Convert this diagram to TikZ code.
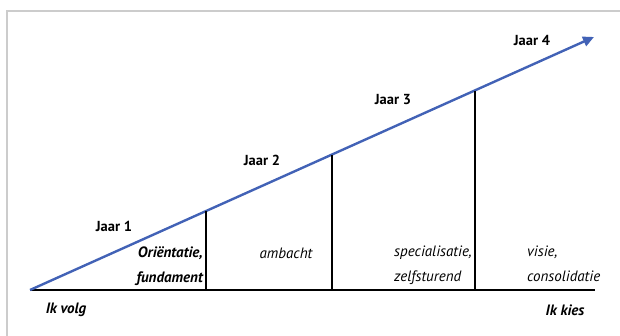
\documentclass[tikz,border=0pt]{standalone}
\usepackage{fontspec}
\setmainfont{PT Sans}
\usetikzlibrary{arrows.meta,positioning}
\definecolor{pijlblauw}{RGB}{66,98,182}
\definecolor{kader}{RGB}{204,204,204}

\tikzset{
  jaar/.style={font=\fontsize{14.5}{16}\selectfont\bfseries},
  fase/.style={font=\fontsize{15}{25}\selectfont\itshape, inner sep=0pt},
  fasevet/.style={font=\fontsize{15}{25}\selectfont\bfseries\itshape, inner sep=0pt},
}

\begin{document}
\begin{tikzpicture}[x=1pt,y=-1pt]
\useasboundingbox (0,0) rectangle (620,336);

% Kader
\draw[kader,line width=2pt] (7,336) -- (7,11) -- (620,11);

% Punten op de as
\coordinate (start) at (30,290);
\coordinate (eind) at (595,290);
\coordinate (top) at (594,37);

% Horizontale as
\draw[line width=2.4pt] (start) -- (eind);

% Groeipijl
\draw[pijlblauw,line width=2.4pt,-{Triangle[length=11pt,width=10pt]}] (start) -- (top);

% Scheidingslijnen
\coordinate (s1) at (206,211);
\coordinate (s2) at (332,155);
\coordinate (s3) at (475,91);
\foreach \s in {s1,s2,s3}
  \draw[line width=1.3pt] (\s) -- (\s |- start);

% Jaren
\node[jaar] (j1) at (114,226) {Jaar 1};
\node[jaar] (j2) at (262,160) {Jaar 2};
\node[jaar] (j3) at (393,100) {Jaar 3};
\node[jaar] (j4) at (532,40) {Jaar 4};

% Fasen
\node[fasevet,align=right,anchor=north east] (f1) at (203,246) {Oriëntatie,\\fundament};
\node[fase] (f2) at (286,253) {ambacht};
\node[fase,align=left,anchor=north west] (f3) at (394,246) {specialisatie,\\zelfsturend};
\node[fase,align=left,anchor=north west] (f4) at (527,246) {visie,\\consolidatie};

% Uitersten
\node[fasevet] (volg) at (66,310) {Ik volg};
\node[fasevet] (kies) at (565,310) {Ik kies};

\end{tikzpicture}
\end{document}
